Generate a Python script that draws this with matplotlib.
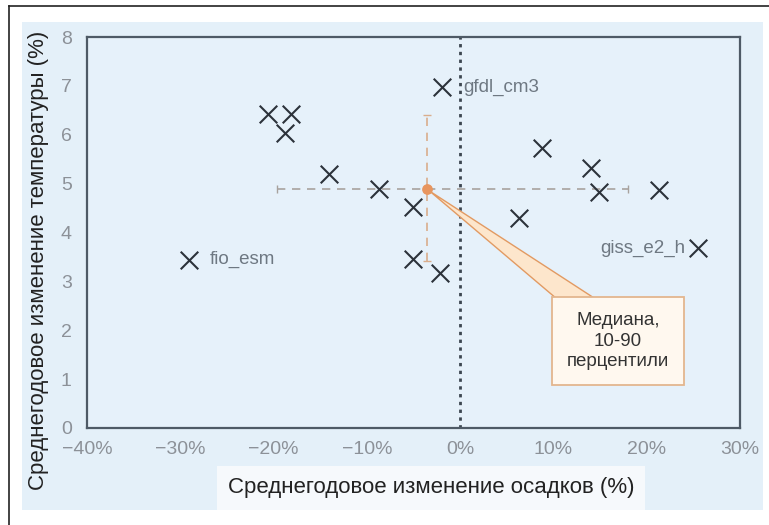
import matplotlib
matplotlib.use("Agg")
import matplotlib.pyplot as plt
from matplotlib.patches import Rectangle
from matplotlib.lines import Line2D

# Model projections: annual precipitation change (%) vs annual temperature change
precip_change = [-1.9, -20.6, -18.1, -18.8, -14.1, -8.7, -5.1, -5.1, -2.2,
                 -29.1, 8.8, 14.0, 14.9, 6.3, 21.3, 25.5]
temp_change = [6.97, 6.42, 6.42, 6.03, 5.19, 4.89, 4.53, 3.46, 3.17,
               3.44, 5.72, 5.32, 4.83, 4.29, 4.87, 3.68]
point_labels = {0: "gfdl_cm3", 9: "fio_esm", 15: "giss_e2_h"}

# Ensemble median with 10th-90th percentile ranges
median_precip = -3.5
median_temp = 4.88
precip_p10, precip_p90 = -19.6, 18.0
temp_p10, temp_p90 = 3.42, 6.40

x_ticks = [-40, -30, -20, -10, 0, 10, 20, 30]
x_tick_labels = ["\u221240%", "\u221230%", "\u221220%", "\u221210%", "0%", "10%", "20%", "30%"]
y_ticks = [0, 1, 2, 3, 4, 5, 6, 7, 8]

plt.rcParams["font.family"] = ["Liberation Sans", "DejaVu Sans"]

W, H = 769, 525
fig = plt.figure(figsize=(W / 100, H / 100), dpi=100)
fig.patch.set_facecolor("white")

# outer frame (top and left edges) and pale blue panel
fig.add_artist(Line2D([9 / W, 9 / W], [0, 1 - 6 / H], color="#222222", lw=1.2))
fig.add_artist(Line2D([9 / W, 1], [1 - 6 / H, 1 - 6 / H], color="#222222", lw=1.2))
fig.add_artist(Rectangle((22 / W, 1 - 510 / H), (763 - 22) / W, (510 - 22) / H,
                         transform=fig.transFigure, facecolor="#e4f0f9",
                         edgecolor="none", zorder=0))

ax = fig.add_axes([87 / W, 1 - 428 / H, 653 / W, 391 / H])
ax.set_facecolor("#e6f1fa")
ax.set_xlim(-40, 30)
ax.set_ylim(0, 8)
for s in ax.spines.values():
    s.set_color("#4e5a66")
    s.set_linewidth(1.6)
ax.set_xticks(x_ticks)
ax.set_xticklabels(x_tick_labels)
ax.set_yticks(y_ticks)
ax.tick_params(length=0, labelsize=14, colors="#8c9198")
ax.tick_params(axis="x", pad=9)
ax.tick_params(axis="y", pad=11)

# zero-precipitation reference line
ax.axvline(0, color="#3c4650", lw=2.0, ls=(0, (1.2, 1.6)), zorder=2)

# percentile ranges
eb_h = ax.errorbar([median_precip], [median_temp],
                   xerr=[[median_precip - precip_p10], [precip_p90 - median_precip]],
                   fmt="none", ecolor="#a8a29e", elinewidth=1.2, capsize=3, zorder=3)
eb_h[2][0].set_linestyle((0, (5, 4)))
eb_v = ax.errorbar([median_precip], [median_temp],
                   yerr=[[median_temp - temp_p10], [temp_p90 - median_temp]],
                   fmt="none", ecolor="#d9ad8c", elinewidth=1.2, capsize=3, zorder=3)
eb_v[2][0].set_linestyle((0, (5, 4)))

# model points
ax.scatter(precip_change, temp_change, marker="x", s=160, color="#2c323a",
           linewidths=1.5, zorder=4)

for i, name in point_labels.items():
    if name == "giss_e2_h":
        ax.annotate(name, (precip_change[i], temp_change[i]), xytext=(-9, 0),
                    textcoords="offset points", ha="right", va="center",
                    fontsize=13.5, color="#6e7882")
    else:
        ax.annotate(name, (precip_change[i], temp_change[i]), xytext=(15, 0),
                    textcoords="offset points", ha="left", va="center",
                    fontsize=13.5, color="#6e7882")

# median marker and callout (wedge starts inside the box, which hides its base)
ax.scatter([median_precip], [median_temp], s=45, color="#e8955e", zorder=5)
ax.annotate("Медиана,\n10-90\nперцентили", xy=(median_precip, median_temp),
            xytext=(16.9, 1.78), ha="center", va="center", fontsize=13.5,
            color="#333333", linespacing=1.3, zorder=6,
            bbox=dict(boxstyle="square,pad=0.8", facecolor="#fff8ef",
                      edgecolor="#e3b68e", lw=1.3),
            arrowprops=dict(arrowstyle="wedge,tail_width=1.55,shrink_factor=0.5",
                            facecolor="#fde6cc", edgecolor="#e29a62", lw=1.0,
                            relpos=(0.46, 0.72), patchA=None, shrinkA=0, shrinkB=2))

ax.set_xlabel("Среднегодовое изменение осадков (%)", fontsize=16, color="#222222",
              bbox=dict(boxstyle="square,pad=0.5", facecolor="#f6f9fc", edgecolor="none"))
ax.xaxis.set_label_coords((431 - 87) / 653, (428 - 488) / 391)
ax.xaxis.label.set_verticalalignment("center")

ax.set_ylabel("Среднегодовое изменение температуры (%)", fontsize=16, color="#222222")
ax.yaxis.set_label_coords((39 - 87) / 653, (428 - 260) / 391)
ax.yaxis.label.set_verticalalignment("center")

fig.savefig("out.png", dpi=100)
